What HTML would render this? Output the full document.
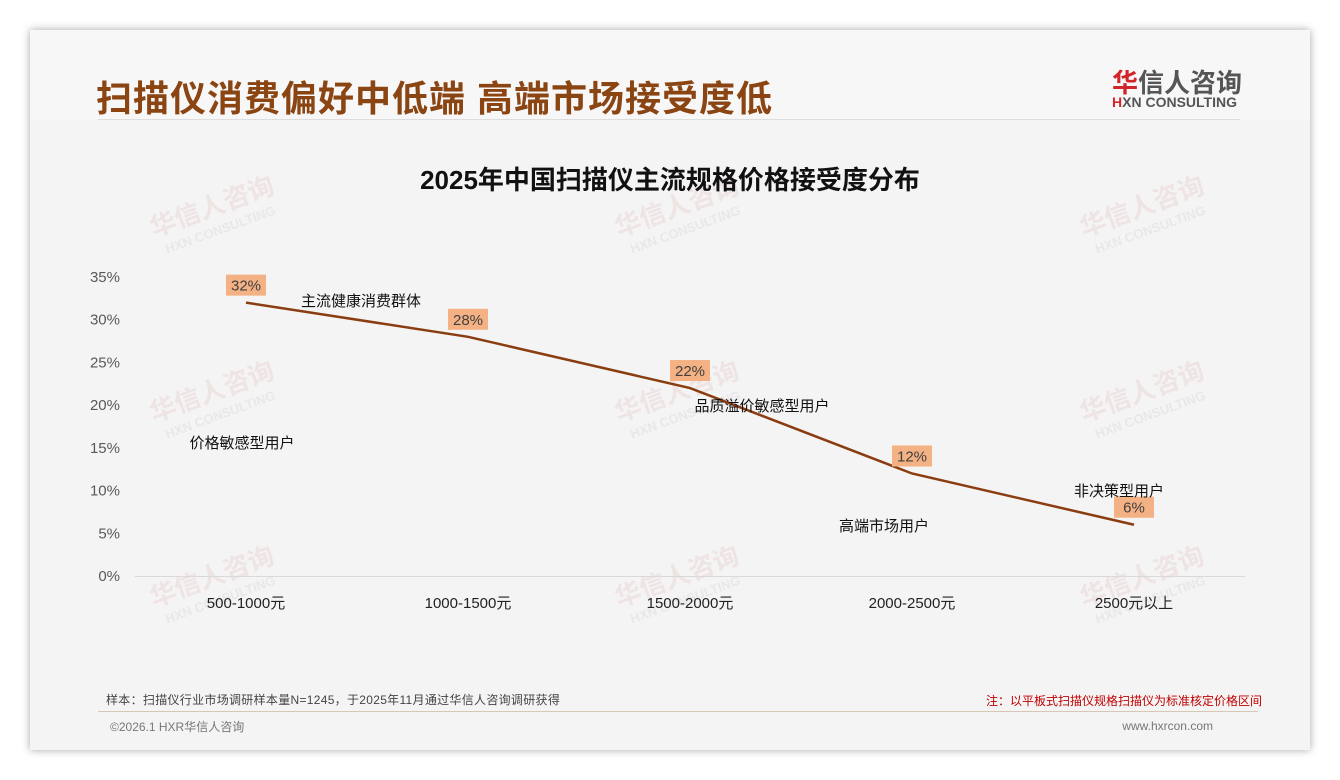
<!DOCTYPE html>
<html><head><meta charset="utf-8"><style>
body{margin:0;width:1340px;height:780px;background:#fff;position:relative;overflow:hidden;font-family:"Liberation Sans","Noto Sans CJK SC",sans-serif}
.card{position:absolute;left:30px;top:30px;width:1280px;height:720px;background:#f4f4f4;box-shadow:0 0 8px rgba(0,0,0,.35)}
.abs{position:absolute;white-space:nowrap}
</style></head><body>
<div class="card">
 <div class="abs" style="left:0;top:0;width:1280px;height:90px;background:#f7f7f7"></div>
 <div class="abs" style="left:66px;top:40px;font-size:36px;font-weight:bold;color:#8a4513;letter-spacing:1px">扫描仪消费偏好中低端 高端市场接受度低</div>
 <div class="abs" style="left:1082px;top:33px;font-size:26px;font-weight:bold;color:#555"><span style="color:#d0262a">华</span>信人咨询</div>
 <div class="abs" style="left:1082px;top:64px;font-size:14px;font-weight:bold;color:#555"><span style="color:#d0262a">H</span>XN CONSULTING</div>
 <div class="abs" style="left:68px;top:89px;width:1142px;height:1px;background:#ddd"></div>
 <div class="abs" style="left:68px;top:681px;width:1160px;height:1px;background:#d8c7b5"></div>
 <div class="abs" style="left:76px;top:661px;font-size:12px;color:#444;letter-spacing:0.3px">样本：扫描仪行业市场调研样本量N=1245，于2025年11月通过华信人咨询调研获得</div>
 <div class="abs" style="right:48px;top:662px;font-size:12px;color:#c00000">注：以平板式扫描仪规格扫描仪为标准核定价格区间</div>
 <div class="abs" style="left:80px;top:688px;font-size:12px;color:#777">©2026.1 HXR华信人咨询</div>
 <div class="abs" style="right:97px;top:689px;font-size:12px;color:#777">www.hxrcon.com</div>
</div>
<svg id="chart" class="abs" style="left:0;top:0" width="1340" height="780"></svg>
<script>
const categories=["500-1000元","1000-1500元","1500-2000元","2000-2500元","2500元以上"];
const values=[32,28,22,12,6];
const yTicks=[0,5,10,15,20,25,30,35];
const notes=[{t:"主流健康消费群体",x:361,y:306},{t:"价格敏感型用户",x:242,y:448},{t:"品质溢价敏感型用户",x:762,y:411},{t:"高端市场用户",x:884,y:531},{t:"非决策型用户",x:1119,y:496}];
const NS="http://www.w3.org/2000/svg",svg=document.getElementById('chart');
const X=i=>135+222*(i+0.5), Y=v=>576-v*(299/35);
function mk(tag,a,txt){const e=document.createElementNS(NS,tag);for(const k in a)e.setAttribute(k,a[k]);if(txt!=null)e.textContent=txt;svg.appendChild(e);return e;}
[[215,215],[680,215],[1145,215],[215,400],[680,400],[1145,400],[215,585],[680,585],[1145,585]].forEach(p=>{
 const w=mk('text',{x:p[0],y:p[1],'font-size':26,'font-weight':'bold',fill:'rgba(210,150,150,0.16)','text-anchor':'middle',transform:`rotate(-20 ${p[0]} ${p[1]})`},'华信人咨询');
 
 
 const w2=mk('text',{x:p[0],y:p[1]+20,'font-size':13,'font-weight':'bold',fill:'rgba(180,180,180,0.18)','text-anchor':'middle',transform:`rotate(-20 ${p[0]} ${p[1]})`},'HXN CONSULTING');
 
 
});
let t=mk('text',{x:670,y:189,'font-size':26,'font-weight':'bold',fill:'#111','text-anchor':'middle'},'2025年中国扫描仪主流规格价格接受度分布');


let ax=mk('line',{x1:135,x2:1245,y1:576.5,y2:576.5,stroke:'#d9d9d9'});


yTicks.forEach(v=>{const e=mk('text',{x:120,y:Y(v)+5,'font-size':15,fill:'#595959','text-anchor':'end'},v+'%');
 
 });
categories.forEach((c,i)=>{const e=mk('text',{x:X(i),y:608,'font-size':15,fill:'#222','text-anchor':'middle'},c);
 
 });
const ln=mk('polyline',{points:values.map((v,i)=>X(i)+','+Y(v)).join(' '),fill:'none',stroke:'#8a3d10','stroke-width':2.5});


values.forEach((v,i)=>{const x=X(i),y=Y(v);
 const r=mk('rect',{x:x-20,y:y-28,width:40,height:21,fill:'#f4b183'});
 
 
 const e=mk('text',{x:x,y:y-12,'font-size':15,fill:'#404040','text-anchor':'middle'},v+'%');
 
 });
notes.forEach(n=>{const e=mk('text',{x:n.x,y:n.y,'font-size':15,fill:'#111','text-anchor':'middle'},n.t);
 
 });
</script>
</body></html>
